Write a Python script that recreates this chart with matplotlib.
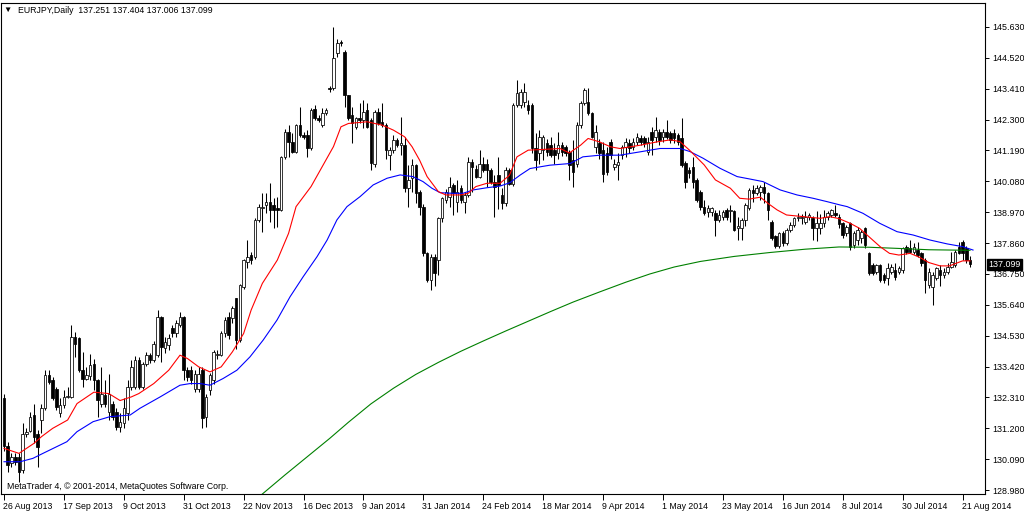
import matplotlib
matplotlib.use("Agg")
import matplotlib.pyplot as plt
import matplotlib.transforms as mtransforms
import numpy as np
import pandas as pd

plt.rcParams['font.family'] = ['Liberation Sans', 'DejaVu Sans']

# EURJPY daily candles, 26 Aug 2013 .. 25 Aug 2014
opens = [
    132.28, 130.55, 129.95, 130.18, 130.18, 129.70, 131.00, 131.10, 131.68, 131.00,
    131.50, 131.92, 133.11, 132.93, 132.63, 131.74, 132.03, 132.33, 132.33, 134.49,
    134.43, 133.29, 132.99, 133.08, 133.53, 132.93, 132.09, 132.39, 131.80, 132.09,
    131.80, 131.26, 131.38, 131.74, 132.69, 132.70, 133.65, 132.69, 133.53, 133.83,
    133.65, 133.83, 135.21, 134.10, 134.20, 134.79, 134.61, 134.91, 135.21, 133.29,
    133.29, 132.60, 132.63, 133.29, 131.62, 132.57, 132.93, 133.83, 133.83, 134.61,
    135.21, 135.15, 135.87, 134.37, 136.29, 137.19, 137.43, 137.37, 138.69, 139.11,
    139.23, 139.35, 139.23, 139.11, 139.05, 140.97, 141.86, 141.51, 141.15, 142.10,
    141.74, 141.74, 141.27, 142.67, 142.34, 142.10, 142.52, 143.42, 143.42, 144.68,
    145.10, 144.74, 143.18, 142.46, 142.04, 142.34, 142.28, 142.64, 142.28, 140.72,
    142.58, 142.22, 142.10, 141.02, 141.20, 141.56, 141.38, 141.38, 139.83, 140.19,
    140.66, 139.71, 139.17, 137.49, 136.53, 137.37, 137.25, 138.75, 139.41, 139.53,
    139.95, 139.35, 139.83, 139.35, 139.59, 140.78, 140.54, 140.25, 140.72, 140.72,
    140.48, 140.07, 140.30, 139.59, 139.29, 140.48, 140.00, 142.82, 142.82, 142.94,
    142.82, 142.82, 141.26, 141.08, 141.20, 141.44, 141.38, 141.20, 141.08, 141.38,
    141.32, 141.14, 140.84, 140.72, 142.10, 142.88, 142.94, 142.52, 141.32, 141.44,
    141.20, 141.08, 141.50, 140.60, 140.66, 141.02, 141.32, 141.44, 141.32, 141.50,
    141.62, 141.62, 141.14, 141.86, 141.68, 141.86, 141.68, 141.86, 141.81, 141.81,
    141.75, 141.63, 140.73, 140.49, 140.61, 140.13, 139.71, 139.17, 138.99, 138.99,
    138.93, 138.69, 138.81, 139.05, 139.00, 139.00, 138.40, 138.40, 138.70, 139.11,
    139.77, 139.65, 139.71, 139.89, 139.65, 138.63, 138.10, 137.74, 138.22, 137.86,
    138.34, 138.52, 138.75, 138.75, 138.63, 138.81, 138.75, 138.40, 138.40, 138.58,
    138.81, 138.87, 138.93, 138.80, 138.57, 138.21, 138.57, 137.79, 137.97, 138.03,
    138.39, 137.49, 137.07, 136.83, 137.07, 136.71, 136.59, 136.83, 136.89, 136.83,
    136.89, 137.73, 137.67, 137.55, 137.61, 137.49, 137.25, 136.35, 136.29, 136.59,
    136.89, 136.71, 136.83, 137.01, 137.07, 137.73, 137.91, 137.70, 137.251,
]
highs = [
    132.45, 130.70, 130.30, 130.30, 130.30, 131.38, 131.20, 131.80, 132.09, 131.14,
    132.09, 133.29, 133.29, 133.05, 132.69, 132.28, 132.57, 132.69, 134.91, 134.67,
    134.49, 133.95, 133.41, 133.89, 133.71, 132.98, 133.41, 132.93, 133.17, 132.20,
    131.92, 131.74, 132.28, 132.93, 133.65, 133.80, 133.75, 133.60, 133.95, 133.90,
    134.35, 135.45, 135.25, 134.50, 134.60, 134.90, 135.10, 135.39, 135.25, 133.40,
    133.45, 133.30, 133.40, 133.41, 132.45, 133.20, 134.00, 134.00, 134.70, 135.20,
    135.40, 135.60, 135.87, 136.40, 137.30, 137.97, 137.55, 138.75, 139.25, 139.65,
    139.65, 140.01, 139.47, 139.50, 141.00, 141.95, 142.10, 141.80, 142.15, 142.76,
    141.85, 141.92, 142.70, 142.82, 142.45, 142.70, 142.70, 143.50, 145.64, 145.20,
    145.16, 144.80, 143.20, 142.76, 142.40, 142.88, 143.00, 142.90, 142.35, 142.65,
    142.70, 142.88, 142.16, 141.32, 141.74, 141.65, 142.40, 141.68, 140.66, 140.90,
    140.72, 139.77, 139.25, 137.55, 137.45, 137.45, 138.81, 139.53, 139.80, 140.25,
    140.01, 140.13, 139.95, 139.70, 140.96, 140.90, 140.65, 141.20, 140.96, 140.90,
    140.55, 140.30, 140.96, 139.85, 140.60, 140.55, 142.90, 143.72, 143.40, 143.60,
    143.00, 142.88, 141.80, 141.92, 141.75, 141.60, 141.68, 141.44, 141.86, 141.50,
    141.40, 141.20, 141.56, 142.20, 142.95, 143.42, 143.42, 142.58, 142.10, 141.60,
    141.50, 141.30, 141.60, 140.90, 141.08, 141.40, 141.62, 141.60, 141.62, 141.80,
    141.75, 141.70, 141.68, 142.04, 142.40, 141.95, 141.95, 142.28, 141.90, 141.95,
    141.80, 142.35, 140.80, 140.60, 140.97, 140.19, 139.77, 139.41, 139.23, 139.15,
    139.05, 139.05, 139.05, 139.11, 139.23, 139.05, 138.81, 138.75, 139.29, 139.83,
    139.95, 139.95, 139.95, 140.07, 139.71, 138.69, 138.16, 138.26, 138.28, 138.40,
    138.60, 138.80, 138.95, 138.90, 139.00, 138.93, 138.85, 139.00, 138.90, 139.05,
    139.00, 139.10, 139.23, 138.90, 138.63, 138.51, 138.63, 138.30, 138.45, 138.33,
    138.45, 137.55, 137.15, 137.12, 137.12, 136.78, 137.13, 137.10, 137.13, 137.05,
    137.73, 137.80, 137.97, 137.85, 137.91, 137.55, 137.31, 136.95, 136.83, 137.01,
    137.07, 136.95, 137.13, 137.55, 137.62, 137.91, 137.97, 137.75, 137.404,
]
lows = [
    130.40, 129.64, 129.80, 129.90, 129.28, 129.60, 130.90, 131.08, 130.66, 129.82,
    131.02, 131.86, 132.81, 132.21, 131.86, 131.62, 131.92, 132.28, 132.28, 133.77,
    133.23, 132.69, 132.93, 132.93, 132.57, 131.62, 131.97, 131.97, 131.50, 131.50,
    131.14, 131.08, 131.20, 131.50, 132.57, 132.60, 132.60, 132.60, 133.45, 133.55,
    133.60, 133.77, 133.60, 133.90, 134.00, 134.50, 134.50, 134.85, 132.93, 132.90,
    132.80, 132.50, 132.50, 131.20, 131.26, 132.40, 132.81, 133.70, 133.80, 134.50,
    134.40, 135.00, 134.07, 134.30, 136.20, 136.95, 137.10, 137.30, 138.60, 138.27,
    138.95, 138.63, 138.39, 138.45, 139.00, 140.90, 140.97, 141.08, 141.10, 141.68,
    141.60, 140.97, 141.20, 142.28, 142.20, 142.04, 142.45, 143.30, 143.36, 144.55,
    144.95, 142.76, 142.28, 141.45, 141.95, 142.16, 141.98, 141.98, 140.49, 140.60,
    142.10, 142.04, 140.90, 140.49, 141.10, 141.30, 141.02, 139.70, 139.17, 139.70,
    139.30, 138.87, 137.40, 136.45, 136.17, 136.30, 136.70, 138.63, 139.30, 139.17,
    138.87, 138.99, 139.30, 138.93, 139.53, 139.71, 140.20, 140.19, 140.42, 139.89,
    140.00, 138.81, 139.10, 139.10, 139.20, 139.96, 139.90, 142.76, 142.70, 142.76,
    142.50, 141.08, 140.48, 140.72, 140.85, 141.00, 140.95, 140.72, 140.90, 141.00,
    141.00, 140.12, 139.88, 140.60, 142.00, 142.82, 142.46, 141.62, 141.08, 140.90,
    140.06, 140.30, 140.90, 140.50, 140.12, 140.90, 140.96, 141.10, 141.20, 141.40,
    141.40, 141.30, 141.02, 141.02, 141.50, 141.40, 141.50, 141.60, 141.45, 141.45,
    141.40, 140.61, 139.83, 140.20, 139.83, 139.35, 139.05, 138.87, 138.81, 138.85,
    138.10, 138.60, 138.70, 138.70, 138.63, 138.28, 137.97, 137.97, 138.46, 139.05,
    139.35, 139.59, 139.41, 139.29, 138.69, 137.98, 137.68, 137.70, 137.75, 137.80,
    138.25, 138.45, 138.65, 138.55, 138.55, 138.70, 137.97, 137.92, 138.20, 138.45,
    138.70, 138.80, 138.80, 138.40, 138.03, 138.10, 137.61, 137.70, 137.80, 137.85,
    137.70, 136.71, 136.70, 136.76, 136.46, 136.42, 136.35, 136.75, 136.53, 136.75,
    136.77, 137.45, 137.49, 137.45, 137.37, 137.05, 136.05, 136.23, 135.64, 136.53,
    136.30, 136.60, 136.75, 136.95, 137.00, 137.45, 137.25, 137.15, 137.006,
]
closes = [
    130.55, 129.90, 130.18, 130.00, 129.64, 131.00, 131.08, 131.62, 130.90, 130.54,
    131.92, 133.11, 132.87, 132.28, 131.97, 132.03, 132.33, 132.36, 134.49, 134.25,
    133.29, 132.99, 133.11, 133.47, 132.93, 132.21, 132.45, 132.09, 132.45, 131.62,
    131.26, 131.44, 131.92, 132.69, 133.41, 133.65, 132.69, 133.53, 133.83, 133.65,
    134.25, 135.21, 134.13, 134.30, 134.43, 134.61, 134.97, 135.21, 133.29, 133.05,
    132.93, 133.17, 133.17, 131.56, 132.33, 133.11, 133.95, 133.89, 134.61, 135.09,
    134.55, 135.51, 134.37, 136.35, 137.25, 137.37, 137.25, 138.69, 139.17, 139.17,
    139.35, 139.05, 139.05, 139.05, 140.97, 141.86, 141.51, 141.15, 142.10, 141.74,
    141.68, 141.27, 142.64, 142.34, 142.28, 142.52, 142.64, 143.40, 144.50, 145.04,
    145.04, 143.18, 142.34, 142.16, 142.34, 142.28, 142.58, 142.04, 140.75, 142.58,
    142.16, 142.10, 141.20, 141.20, 141.56, 141.38, 141.45, 139.83, 140.13, 140.66,
    139.65, 139.17, 137.49, 136.53, 137.37, 136.77, 138.75, 139.47, 139.71, 139.89,
    139.65, 139.71, 139.41, 139.59, 140.78, 140.60, 140.25, 140.72, 140.48, 140.48,
    140.07, 139.89, 139.95, 139.29, 140.48, 140.00, 142.82, 143.24, 143.30, 143.30,
    142.64, 141.26, 140.84, 141.68, 141.68, 141.14, 141.02, 141.02, 141.38, 141.14,
    141.08, 140.66, 140.42, 142.10, 142.88, 143.36, 142.52, 141.68, 141.86, 141.08,
    140.36, 140.42, 141.02, 140.72, 140.78, 141.32, 141.50, 141.26, 141.50, 141.68,
    141.50, 141.44, 141.50, 141.56, 141.92, 141.56, 141.86, 141.68, 141.57, 141.63,
    141.51, 140.67, 140.07, 140.37, 140.07, 139.41, 139.17, 138.93, 139.11, 139.11,
    138.69, 138.87, 138.99, 138.81, 139.05, 138.34, 138.46, 138.70, 139.23, 139.77,
    139.65, 139.83, 139.89, 139.65, 139.05, 138.04, 137.74, 138.22, 137.86, 138.34,
    138.52, 138.75, 138.81, 138.80, 138.81, 138.87, 138.40, 138.58, 138.58, 138.81,
    138.93, 139.05, 138.87, 138.55, 138.15, 138.45, 137.73, 138.21, 138.33, 138.27,
    137.79, 136.77, 136.77, 137.07, 136.53, 136.53, 136.95, 137.01, 136.65, 136.95,
    137.67, 137.55, 137.55, 137.73, 137.43, 137.13, 136.53, 136.83, 136.71, 136.95,
    136.71, 136.83, 137.01, 137.19, 137.55, 137.49, 137.49, 137.25, 137.099,
]

# moving averages, sampled along the chart (bar index, price)
red_bar = [0, 4, 8, 10, 13, 17, 19.5, 24, 28, 31, 34, 36, 40, 44, 47, 49, 52, 55, 58, 61,
           64, 66, 69, 73, 76, 78, 82, 85, 88, 90, 92, 97, 99, 101, 104, 107, 109, 111,
           113, 116, 118, 122, 124, 126, 129, 132.5, 135, 137, 140, 146, 148.5, 151, 154,
           156, 159, 162, 164.5, 170, 174.5, 178, 180.5, 183, 187, 190, 194, 196.5, 199,
           202, 204, 206.5, 209, 213.5, 218, 220.5, 223, 226, 228.5, 231, 234, 236.5,
           239, 242, 244.5, 247, 250, 252.5, 256, 258]
red_val = [130.48, 130.30, 130.66, 130.90, 131.20, 131.50, 132.09, 132.50, 132.45, 132.20,
           132.33, 132.45, 132.81, 133.29, 133.83, 133.71, 133.41, 133.23, 133.41, 133.95,
           134.61, 135.45, 136.41, 137.25, 138.21, 139.17, 139.89, 140.61, 141.33, 142.04,
           142.16, 142.22, 142.16, 142.10, 141.92, 141.68, 141.32, 140.84, 140.25, 139.71,
           139.59, 139.59, 139.65, 139.89, 140.01, 140.01, 140.30, 140.96, 141.20, 141.24,
           141.26, 141.10, 141.38, 141.62, 141.50, 141.32, 141.26, 141.38, 141.50, 141.57,
           141.51, 141.21, 140.67, 140.13, 139.83, 139.47, 139.44, 139.51, 139.29, 139.05,
           138.87, 138.81, 138.75, 138.81, 138.74, 138.57, 138.39, 138.09, 137.73, 137.49,
           137.43, 137.49, 137.35, 137.16, 137.04, 137.04, 137.22, 137.22]

blue_bar = [0, 4.3, 7.7, 10.4, 16.8, 19.5, 23.8, 28.3, 33.7, 36.3, 41.7, 47, 49.7, 52.4, 55,
            58.5, 62.2, 65.7, 69.2, 72.9, 76.4, 79.9, 83.6, 86.3, 88.9, 91.6, 95.1, 98.6,
            102.3, 105.8, 109.2, 111.9, 114.3, 116.5, 119.9, 122.6, 125.3, 129, 132.5,
            135.1, 137.8, 140.5, 145.8, 151.2, 154.6, 159.2, 164.5, 169.9, 175.2, 180.6,
            183.2, 186.7, 191.2, 195.8, 199.3, 202.7, 207.3, 211.8, 216.1, 219.8, 223.3,
            225.2, 229.4, 233.9, 238.5, 242.8, 247.3, 251.9, 256.1, 258.8]
blue_val = [130.00, 130.00, 130.12, 130.30, 130.72, 131.08, 131.44, 131.62, 131.68, 131.92,
            132.33, 132.75, 132.81, 132.81, 132.75, 132.99, 133.29, 133.77, 134.37, 135.09,
            135.93, 136.65, 137.37, 137.97, 138.69, 139.17, 139.53, 139.95, 140.19, 140.31,
            140.25, 140.07, 139.83, 139.67, 139.65, 139.65, 139.77, 139.85, 139.91, 140.03,
            140.30, 140.54, 140.66, 140.72, 140.96, 141.02, 141.02, 141.14, 141.26, 141.26,
            141.15, 140.91, 140.55, 140.25, 140.16, 140.07, 139.77, 139.59, 139.47, 139.35,
            139.23, 139.17, 138.93, 138.57, 138.27, 138.15, 137.97, 137.83, 137.73, 137.61]

green_bar = [69, 75, 81, 87, 92, 98, 104, 110, 116, 122, 128, 134, 140, 146, 152, 159, 166,
             172.5, 179, 186, 195, 204.5, 214, 223, 231, 238.5, 247, 258]
green_val = [128.84, 129.52, 130.18, 130.84, 131.42, 132.08, 132.64, 133.14, 133.57, 133.97,
             134.34, 134.70, 135.05, 135.40, 135.74, 136.10, 136.45, 136.75, 137.00, 137.20,
             137.38, 137.52, 137.64, 137.72, 137.71, 137.67, 137.62, 137.60]

price_ticks = [128.98 + 1.11 * k for k in range(16)]
dates = pd.bdate_range('2013-08-26', periods=len(closes), freq='C',
                       holidays=['2013-12-25', '2014-01-01'])

fig = plt.figure(figsize=(10.24, 5.11), dpi=100)
ax = fig.add_axes([1 / 1024, 17 / 511, 984 / 1024, 491 / 511])

idx = np.arange(len(closes))
o = np.array(opens); h = np.array(highs); l = np.array(lows); c = np.array(closes)
bull = c >= o

ax.vlines(idx, l, h, color='black', linewidth=0.75, zorder=2)
body_lo = np.minimum(o, c)
body_h = np.maximum(np.abs(c - o), 0.012)
ax.bar(idx[bull], body_h[bull], bottom=body_lo[bull], width=0.68,
       color='white', edgecolor='black', linewidth=0.55, zorder=3)
ax.bar(idx[~bull], body_h[~bull], bottom=body_lo[~bull], width=0.68,
       color='black', edgecolor='black', linewidth=0.55, zorder=3)

ax.plot(green_bar, green_val, color='#008000', linewidth=0.8, zorder=4)
ax.plot(blue_bar, blue_val, color='#0000ff', linewidth=0.8, zorder=4)
ax.plot(red_bar, red_val, color='#ff0000', linewidth=0.8, zorder=4)

ax.set_xlim(-0.8, 262.0)
ax.set_ylim(128.84, 146.49)

ax.yaxis.tick_right()
ax.set_yticks(price_ticks)
ax.set_yticklabels([f"{p:.3f}" for p in price_ticks])
ax.tick_params(axis='y', direction='out', length=3, width=0.7, pad=2, labelsize=6.4)

xt = list(range(0, len(closes), 16))
ax.set_xticks(xt)
ax.set_xticklabels([f"{dates[i].day} {dates[i]:%b %Y}" for i in xt], ha='left')
ax.tick_params(axis='x', direction='out', length=4, width=0.7, pad=1.5, labelsize=6.3)
for lab in ax.get_xticklabels():
    lab.set_transform(lab.get_transform() + mtransforms.ScaledTranslation(-1 / 100, 0, fig.dpi_scale_trans))

for sp in ax.spines.values():
    sp.set_linewidth(0.8)
    sp.set_color('black')

# current price marker on the price scale
tr = mtransforms.blended_transform_factory(ax.transAxes, ax.transData)
ax.text(1.0035, closes[-1], f"{closes[-1]:.3f}", transform=tr, ha='left', va='center',
        fontsize=6.4, color='white', clip_on=False,
        bbox=dict(boxstyle='square,pad=0.12', facecolor='black', edgecolor='black'))

fig.text(3 / 1024, 1 - 10.5 / 511, "\u25bc", fontsize=6, va='center', ha='left')
fig.text(18 / 1024, 1 - 10.5 / 511,
         f"EURJPY,Daily  {opens[-1]:.3f} {highs[-1]:.3f} {lows[-1]:.3f} {closes[-1]:.3f}",
         fontsize=6.3, va='center', ha='left')
fig.text(7 / 1024, 1 - 486.5 / 511, "MetaTrader 4, \u00a9 2001-2014, MetaQuotes Software Corp.",
         fontsize=6.3, va='center', ha='left')

fig.savefig("out.png", dpi=100, facecolor='white')
